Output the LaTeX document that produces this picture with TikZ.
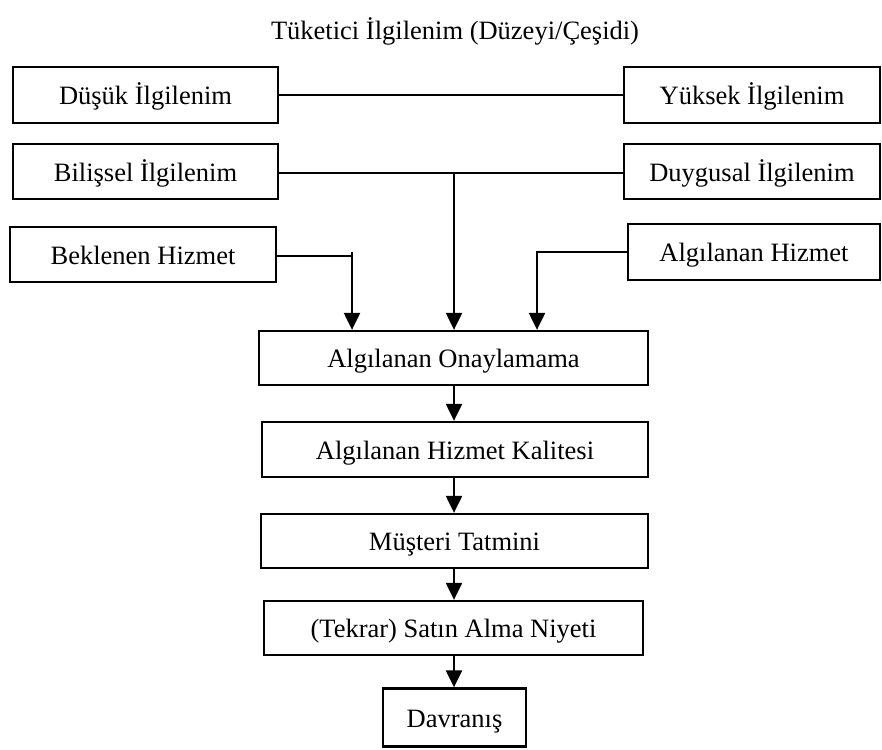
\documentclass[tikz,border=0pt]{standalone}
\usepackage{fontspec}
\setmainfont{Liberation Serif}
\usetikzlibrary{arrows.meta}
\begin{document}
\begin{tikzpicture}[x=1pt,y=-1pt,
  box/.style={draw=black,line width=2.3pt,fill=white,inner sep=0pt,
    font=\fontsize{26.5}{30}\selectfont,text height=19pt,text depth=0pt,anchor=center},
  link/.style={draw=black,line width=2.2pt},
  flow/.style={link,-{Triangle[width=16pt,length=17pt]}}]
\useasboundingbox (0,0) rectangle (882,749);

% title
\node[font=\fontsize{26.5}{30}\selectfont,text height=19pt,text depth=0pt] (title) at (455,30) {Tüketici İlgilenim (Düzeyi/Çeşidi)};

% left column
\node[box,minimum width=265pt,minimum height=56pt] (dusuk) at (145.5,95) {Düşük İlgilenim};
\node[box,minimum width=265pt,minimum height=55pt] (bilissel) at (145.5,171.5) {Bilişsel İlgilenim};
\node[box,minimum width=266pt,minimum height=55pt] (beklenen) at (143,254.5) {Beklenen Hizmet};

% right column
\node[box,minimum width=256pt,minimum height=56pt] (yuksek) at (752,95) {Yüksek İlgilenim};
\node[box,minimum width=256pt,minimum height=55pt] (duygusal) at (752,171.5) {Duygusal İlgilenim};
\node[box,minimum width=252pt,minimum height=56pt] (algh) at (754,252) {Algılanan Hizmet};

% central chain
\node[box,minimum width=389pt,minimum height=54pt] (onay) at (453.5,358) {Algılanan Onaylamama};
\node[box,minimum width=386pt,minimum height=55pt] (kalite) at (455,449.5) {Algılanan Hizmet Kalitesi};
\node[box,minimum width=387pt,minimum height=54pt] (tatmin) at (454.5,541) {Müşteri Tatmini};
\node[box,minimum width=379pt,minimum height=54pt] (niyet) at (453.5,628) {(Tekrar) Satın Alma Niyeti};
\node[box,minimum width=143pt,minimum height=58pt] (davranis) at (454.5,717.5) {Davranış};

% junction points
\coordinate (jmid) at (454,173);
\coordinate (jbek) at (352,256);
\coordinate (jbektop) at (352,252);
\coordinate (jalg) at (537,252);

% connectors
\draw[link] (dusuk.east) -- (yuksek.west);
\draw[link] (bilissel.east |- jmid) -- (duygusal.west |- jmid);
\draw[flow] (jmid) -- (jmid |- onay.north);
\draw[link] (beklenen.east |- jbek) -- (jbek);
\draw[flow] (jbektop) -- (jbektop |- onay.north);
\draw[flow] (algh.west |- jalg) -- (jalg) -- (jalg |- onay.north);
\draw[flow] (onay.south -| jmid) -- (kalite.north -| jmid);
\draw[flow] (kalite.south -| jmid) -- (tatmin.north -| jmid);
\draw[flow] (tatmin.south -| jmid) -- (niyet.north -| jmid);
\draw[flow] (niyet.south -| jmid) -- (davranis.north -| jmid);
\end{tikzpicture}
\end{document}
